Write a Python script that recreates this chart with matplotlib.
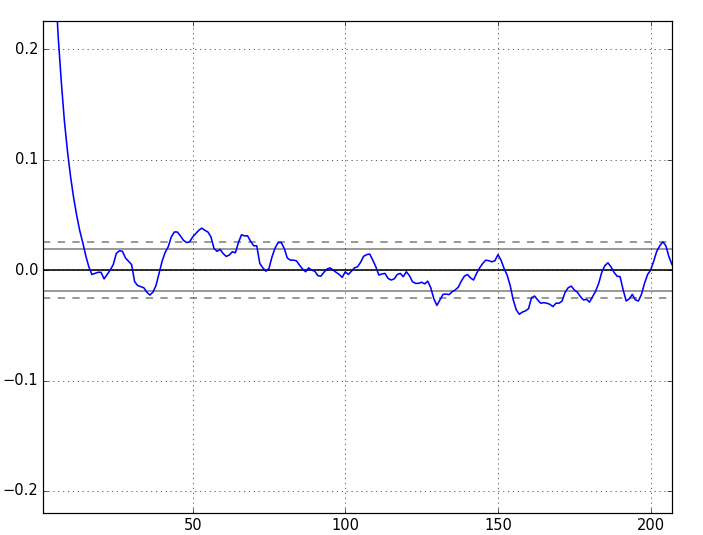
import numpy as np
import matplotlib
matplotlib.use('Agg')
from matplotlib import pyplot as plt

# autocorrelation values (lag 1..207)
lags = np.arange(1, 208)
acf = [
    0.62, 0.50, 0.40, 0.32, 0.26, 0.21, 0.17, 0.135, 0.108, 0.085,
    0.066, 0.05, 0.036, 0.025, 0.013, 0.003, -0.004, -0.003, -0.002, -0.002,
    -0.008, -0.004, 0.0, 0.005, 0.015, 0.0175, 0.017, 0.011, 0.008, 0.005,
    -0.0105, -0.014, -0.015, -0.016, -0.020, -0.0226, -0.020, -0.014, -0.003, 0.008,
    0.016, 0.021, 0.030, 0.0345, 0.0345, 0.031, 0.027, 0.025, 0.0255, 0.030,
    0.033, 0.036, 0.038, 0.036, 0.0345, 0.030, 0.0196, 0.017, 0.0187, 0.015,
    0.0124, 0.0136, 0.0166, 0.0157, 0.025, 0.032, 0.031, 0.031, 0.026, 0.022,
    0.022, 0.006, 0.002, -0.001, 0.0015, 0.012, 0.020, 0.025, 0.025, 0.0196,
    0.011, 0.009, 0.009, 0.0084, 0.0045, 0.001, -0.0015, 0.002, 0.0, -0.001,
    -0.005, -0.0055, -0.002, 0.001, 0.002, 0.0, -0.002, -0.004, -0.0066, -0.0015,
    -0.004, -0.001, 0.002, 0.003, 0.007, 0.0125, 0.014, 0.0145, 0.009, 0.003,
    -0.0045, -0.0035, -0.003, -0.0075, -0.009, -0.008, -0.004, -0.003, -0.006, -0.0015,
    -0.005, -0.0105, -0.012, -0.012, -0.011, -0.0125, -0.010, -0.016, -0.026, -0.032,
    -0.027, -0.022, -0.0217, -0.0222, -0.0196, -0.018, -0.0155, -0.010, -0.0055, -0.004,
    -0.007, -0.009, -0.003, 0.002, 0.006, 0.009, 0.0085, 0.0075, 0.0085, 0.014,
    0.009, 0.0015, -0.0045, -0.014, -0.027, -0.036, -0.040, -0.038, -0.037, -0.035,
    -0.025, -0.0235, -0.027, -0.030, -0.0295, -0.030, -0.031, -0.033, -0.030, -0.030,
    -0.028, -0.020, -0.016, -0.0145, -0.018, -0.020, -0.024, -0.027, -0.0265, -0.029,
    -0.024, -0.019, -0.012, -0.002, 0.004, 0.0066, 0.003, -0.002, -0.0055, -0.006,
    -0.018, -0.028, -0.026, -0.022, -0.027, -0.028, -0.022, -0.012, -0.004, 0.0,
    0.008, 0.017, 0.022, 0.0256, 0.022, 0.012, 0.005,
]
n_obs = 10600  # series length behind the confidence bands
z95 = 1.959963984540054
z99 = 2.5758293035489004
xticks = [50, 100, 150, 200]
yticks = [-0.2, -0.1, 0.0, 0.1, 0.2]

plt.style.use('classic')
dpi = 88
fig = plt.figure(figsize=(703 / dpi, 535 / dpi), dpi=dpi)
ax = fig.add_axes([0.0612, 0.0411, 0.8947, 0.9205])

ax.axhline(y=z99 / np.sqrt(n_obs), linestyle='--', color='grey', lw=1.3)
ax.axhline(y=z95 / np.sqrt(n_obs), color='grey', lw=1.3)
ax.axhline(y=0.0, color='black', lw=1.3)
ax.axhline(y=-z95 / np.sqrt(n_obs), color='grey', lw=1.3)
ax.axhline(y=-z99 / np.sqrt(n_obs), linestyle='--', color='grey', lw=1.3)

ax.plot(lags, acf, color='b', lw=1.3)

ax.set_xlim(1, 207)
ax.set_ylim(-0.22, 0.226)
ax.set_xticks(xticks)
ax.set_yticks(yticks)
ax.grid(True)

fig.savefig('out.png', dpi=dpi)
